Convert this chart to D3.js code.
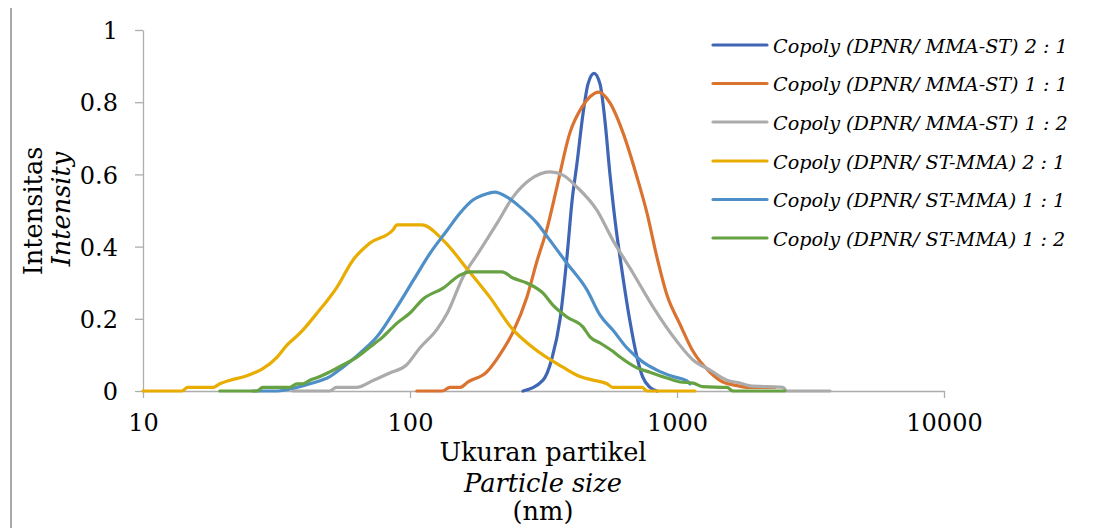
<!DOCTYPE html>
<html><head><meta charset="utf-8">
<script src="https://cdn.jsdelivr.net/npm/d3@7"></script>
<style>body{margin:0;background:#fff} svg{display:block}</style>
</head><body>
<svg id="c" width="1108" height="528"></svg>
<script>
// ---- data ----
const seriesNames = [
  "Copoly (DPNR/ MMA-ST) 2 : 1",
  "Copoly (DPNR/ MMA-ST) 1 : 1",
  "Copoly (DPNR/ MMA-ST) 1 : 2",
  "Copoly (DPNR/ ST-MMA) 2 : 1",
  "Copoly (DPNR/ ST-MMA) 1 : 1",
  "Copoly (DPNR/ ST-MMA) 1 : 2"
];
const seriesColors = ["#3F66B5", "#DA7230", "#ABABAB", "#E8AD00", "#4F8FC8", "#66A142"];

const size1 = [265,315,340,365,387,405,422,445,464,489,515,537,561,596,612,664,708,743,792,841];
const int1  = [0,0.03,0.09,0.2,0.37,0.53,0.63,0.77,0.85,0.88,0.85,0.75,0.6,0.43,0.37,0.2,0.094,0.04,0.01,0];

const size2 = [106,132,141,154,165,194,214,243,274,299,326,355,397,441,472,510,561,628,708,772,841,918,1026,1148,1330,1486,1622,1876,2328];
const int2  = [0,0,0.01,0.01,0.025,0.053,0.094,0.163,0.26,0.36,0.45,0.565,0.715,0.787,0.815,0.828,0.798,0.715,0.593,0.493,0.371,0.265,0.185,0.11,0.052,0.025,0.017,0.01,0.01];

const size3 = [36.5,50,53,63,73,84,97,109,126,138,158,183,212,243,281,334,374,422,501,575,684,813,1000,1148,1330,1538,1722,1876,2495,2582,3741];
const int3  = [0,0,0.01,0.01,0.03,0.05,0.072,0.12,0.17,0.216,0.316,0.39,0.465,0.537,0.585,0.607,0.598,0.565,0.501,0.418,0.327,0.233,0.137,0.086,0.058,0.03,0.022,0.014,0.01,0,0];

const size4 = [10,14,14.7,18.3,19.4,21.2,24.5,31.8,34.6,38.7,44.9,53.3,61.2,70.8,86.3,89.4,111,133,165,199,243,289,374,433,485,547,575,740,772,1167];
const int4  = [0,0,0.01,0.01,0.02,0.03,0.042,0.094,0.127,0.16,0.216,0.288,0.363,0.41,0.446,0.46,0.46,0.418,0.335,0.26,0.17,0.12,0.066,0.04,0.03,0.02,0.01,0.01,0,0];

const size5 = [25.8,31.8,37.7,42.2,50.1,56.1,65,75.2,89.4,103,119,138,154,172,188,208,231,258,299,334,387,460,515,575,650,746,841,966,1089,1119];
const int5  = [0,0,0.01,0.02,0.04,0.066,0.105,0.15,0.233,0.307,0.382,0.446,0.493,0.529,0.543,0.551,0.537,0.51,0.465,0.418,0.354,0.28,0.21,0.169,0.119,0.08,0.058,0.04,0.028,0.02];

const size6 = [19.4,26.7,28.1,35.5,37.7,39.7,42.2,46,50.1,56.1,63.3,70.8,79.2,89.4,100,112,133,154,168,221,243,274,315,343,387,445,472,515,575,612,708,792,918,1026,1148,1250,1538,1622,2535];
const int6  = [0,0,0.01,0.01,0.02,0.02,0.03,0.04,0.053,0.072,0.094,0.122,0.15,0.188,0.216,0.255,0.285,0.321,0.33,0.33,0.313,0.299,0.271,0.238,0.205,0.177,0.15,0.133,0.11,0.094,0.064,0.052,0.036,0.025,0.022,0.012,0.01,0,0];

const xTickValues = [10, 100, 1000, 10000];
const xTickLabels = ["10", "100", "1000", "10000"];
const yTickValues = [0, 0.2, 0.4, 0.6, 0.8, 1];
const yTickLabels = ["0", "0.2", "0.4", "0.6", "0.8", "1"];
const xTitleLines = ["Ukuran partikel", "Particle size", "(nm)"];
const yTitleLines = ["Intensitas", "Intensity"];

// ---- chart ----
const sizes = [size1, size2, size3, size4, size5, size6];
const ints = [int1, int2, int3, int4, int5, int6];
const FONT = "'DejaVu Serif', serif";
const svg = d3.select("#c");

svg.append("line").attr("x1", 11).attr("x2", 11).attr("y1", 8).attr("y2", 528)
  .attr("stroke", "#555").attr("stroke-width", 1);

const x = d3.scaleLog().domain([10, 10000]).range([143, 944]);
const y = d3.scaleLinear().domain([0, 1]).range([391, 30]);
const axisColor = "#ADADAD";

const gx = svg.append("g").attr("transform", "translate(0,391)")
  .call(d3.axisBottom(x).tickValues(xTickValues).tickFormat((d, i) => xTickLabels[i]).tickSize(7).tickSizeOuter(0));
const gy = svg.append("g").attr("transform", "translate(143,0)")
  .call(d3.axisLeft(y).tickValues(yTickValues).tickFormat((d, i) => yTickLabels[i]).tickSize(8).tickSizeOuter(0));
[gx, gy].forEach(g => {
  g.select(".domain").attr("stroke", axisColor).attr("stroke-width", 1.3);
  g.selectAll(".tick line").attr("stroke", axisColor).attr("stroke-width", 1.3);
  g.selectAll(".tick text").attr("fill", "#000").style("font-family", FONT).style("font-size", "24px");
});
gx.selectAll(".tick text").attr("y", 40).attr("dy", 0);
gy.selectAll(".tick text").attr("x", -25).attr("dy", "0.36em");

// lines
const line = d3.line().x(d => x(d[0])).y(d => y(d[1])).curve(d3.curveMonotoneX);
sizes.forEach((s, k) => {
  const pts = s.map((v, i) => [v, ints[k][i]]);
  svg.append("path").datum(pts).attr("d", line)
    .attr("fill", "none").attr("stroke", seriesColors[k]).attr("stroke-width", 3.2)
    .attr("stroke-linejoin", "round").attr("stroke-linecap", "round");
});

function fitText(sel, target, base) {
  sel.style("font-size", base + "px");
  const w = sel.node().getComputedTextLength();
  sel.style("font-size", (base * target / w) + "px");
}

// legend
const legY = [45, 83.5, 122, 161, 199.5, 238];
let legFont = null;
seriesNames.forEach((n, k) => {
  svg.append("line").attr("x1", 713).attr("x2", 767).attr("y1", legY[k]).attr("y2", legY[k])
    .attr("stroke", seriesColors[k]).attr("stroke-width", 3.2).attr("stroke-linecap", "round");
  const t = svg.append("text").attr("x", 773).attr("y", legY[k] + 7.5)
    .style("font-family", FONT).style("font-style", "italic").text(n);
  if (legFont === null) { fitText(t, 295, 20); legFont = t.style("font-size"); }
  else t.style("font-size", legFont);
});

// x title
const xtW = [207, 153, 55];
const xtY = [461, 492, 520];
let xtFont = null;
xTitleLines.forEach((s, i) => {
  const t = svg.append("text").attr("x", 543).attr("y", xtY[i]).attr("text-anchor", "middle")
    .style("font-family", FONT).style("font-style", i === 1 ? "italic" : "normal").text(s);
  if (i === 0) { fitText(t, xtW[0], 24); xtFont = t.style("font-size"); }
  else t.style("font-size", xtFont);
});

// y title
const ytX = [42, 70];
yTitleLines.forEach((s, i) => {
  const t = svg.append("text").attr("transform", `translate(${ytX[i]},${i === 0 ? 211 : 209}) rotate(-90)`)
    .attr("text-anchor", "middle")
    .style("font-family", FONT).style("font-style", i === 1 ? "italic" : "normal").text(s);
  t.style("font-size", xtFont);
});
</script>
</body></html>
